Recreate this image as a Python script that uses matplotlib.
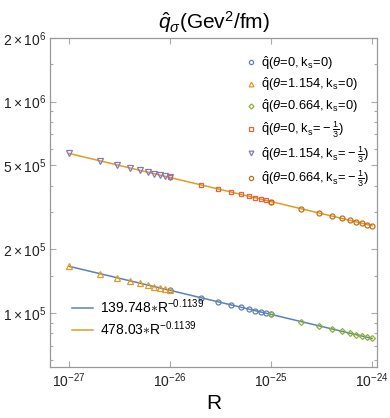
import matplotlib
matplotlib.use("Agg")
import matplotlib.pyplot as plt
from matplotlib.lines import Line2D
import numpy as np

plt.rcParams['font.family'] = ['Liberation Sans', 'DejaVu Sans']
plt.rcParams['mathtext.fontset'] = 'custom'
plt.rcParams['mathtext.rm'] = 'Liberation Sans'
plt.rcParams['mathtext.it'] = 'Liberation Sans:italic'

# ---- data ----
R_a = [1e-27, 2e-27, 3e-27, 4e-27, 5e-27, 6e-27, 7e-27, 8e-27, 9e-27, 1e-26]
R_b = [1e-26, 2e-26, 3e-26, 4e-26, 5e-26, 6e-26, 7e-26, 8e-26, 9e-26, 1e-25]
R_c = [1e-25, 2e-25, 3e-25, 4e-25, 5e-25, 6e-25, 7e-25, 8e-25, 9e-25, 1e-24]

q_theta0_k0 = [127900, 118200, 112900, 109200, 106500, 104300, 102500, 100900, 99560, 98390]
q_theta1154_k0 = [166200, 153600, 146700, 142000, 138400, 135600, 133200, 131200, 129400, 127900]
q_theta0664_k0 = [98390, 90920, 86830, 84020, 81890, 80190, 78780, 77580, 76550, 75690]
q_theta0_k13 = [437500, 404300, 386200, 373700, 364300, 356800, 350600, 345200, 340600, 336600]
q_theta1154_k13 = [568500, 525400, 501800, 485700, 473400, 463800, 455600, 448800, 442700, 437500]
q_theta0664_k13 = [336600, 311000, 297000, 287400, 280100, 274300, 269500, 265400, 261800, 258900]

fit_R = [1e-27, 1e-24]
fit1 = [166200, 75690]
fit2 = [568500, 258900]

series_labels = [
    r'$\hat{\mathrm{q}}(\theta\!=\!0,\mathrm{k_s}\!=\!0)$',
    r'$\hat{\mathrm{q}}(\theta\!=\!1.154,\mathrm{k_s}\!=\!0)$',
    r'$\hat{\mathrm{q}}(\theta\!=\!0.664,\mathrm{k_s}\!=\!0)$',
    r'$\hat{\mathrm{q}}(\theta\!=\!0,\mathrm{k_s}\!=\!-\frac{1}{3})$',
    r'$\hat{\mathrm{q}}(\theta\!=\!1.154,\mathrm{k_s}\!=\!-\frac{1}{3})$',
    r'$\hat{\mathrm{q}}(\theta\!=\!0.664,\mathrm{k_s}\!=\!-\frac{1}{3})$',
]
fit_labels = [r'139.748$\ast$R$^{-0.1139}$', r'478.03$\ast$R$^{-0.1139}$']

colors = ['#5E81B5', '#E19C24', '#8FB032', '#EB6235', '#8778B3', '#C56E1A']
markers = ['o', '^', 'D', 's', 'v', 'o']
msizes = [3.6, 4.0, 3.0, 3.3, 4.0, 3.6]

fig = plt.figure(figsize=(3.9, 4.18), dpi=100)
ax = fig.add_axes([0.128, 0.122, 0.839, 0.787])

ax.plot(fit_R, fit1, color=colors[0], lw=1.1, zorder=2)
ax.plot(fit_R, fit2, color=colors[1], lw=1.1, zorder=2)

data = [(R_b, q_theta0_k0), (R_a, q_theta1154_k0), (R_c, q_theta0664_k0),
        (R_b, q_theta0_k13), (R_a, q_theta1154_k13), (R_c, q_theta0664_k13)]
handles = []
for (x, y), c, m, ms, lab in zip(data, colors, markers, msizes, series_labels):
    h, = ax.plot(x, y, ls='none', marker=m, ms=ms, mfc='none', mec=c, mew=0.9,
                 zorder=3, label=lab)
    handles.append(h)

ax.set_xscale('log')
ax.set_yscale('log')
ax.set_xlim(10**-27.19, 10**-23.95)
ax.set_ylim(55470, 2e6)

ax.set_xticks([1e-27, 1e-26, 1e-25, 1e-24])
ax.set_xticklabels([r'$10^{-27}$', r'$10^{-26}$', r'$10^{-25}$', r'$10^{-24}$'])
ax.xaxis.set_minor_locator(matplotlib.ticker.NullLocator())
ax.set_yticks([1e5, 2e5, 5e5, 1e6, 2e6])
ax.set_yticklabels([r'$1\times10^{5}$', r'$2\times10^{5}$', r'$5\times10^{5}$',
                    r'$1\times10^{6}$', r'$2\times10^{6}$'])
ax.set_yticks([6e4, 7e4, 8e4, 9e4, 1.5e5, 3e5, 4e5, 6e5, 7e5, 8e5, 9e5, 1.5e6], minor=True)
ax.yaxis.set_minor_formatter(matplotlib.ticker.NullFormatter())

ax.tick_params(which='both', direction='in', top=True, right=True, color='#aaaaaa',
               labelsize=10, labelcolor='#222222', width=0.8)
ax.tick_params(which='major', length=4, pad=3)
ax.tick_params(which='minor', length=2.5)
for s in ax.spines.values():
    s.set_color('#999999')
    s.set_linewidth(0.9)

ax.set_title(r'$\hat{q}_\sigma$(Gev$^2$/fm)', fontsize=15, pad=7)
ax.set_xlabel('R', fontsize=15, labelpad=3)

leg1 = ax.legend(handles=handles, loc='upper right', bbox_to_anchor=(1.0, 0.975),
                 frameon=False, fontsize=9.3, handlelength=0.6, handletextpad=0.5,
                 labelspacing=0.32, borderaxespad=0.2, markerscale=0.85)
ax.add_artist(leg1)
fh = [Line2D([], [], color=colors[0], lw=1.1), Line2D([], [], color=colors[1], lw=1.1)]
ax.legend(handles=fh, labels=fit_labels, loc='lower left', bbox_to_anchor=(0.03, 0.05),
          frameon=False, fontsize=10, handlelength=1.5, handletextpad=0.5,
          labelspacing=0.25)

fig.savefig('out.png', dpi=100)
